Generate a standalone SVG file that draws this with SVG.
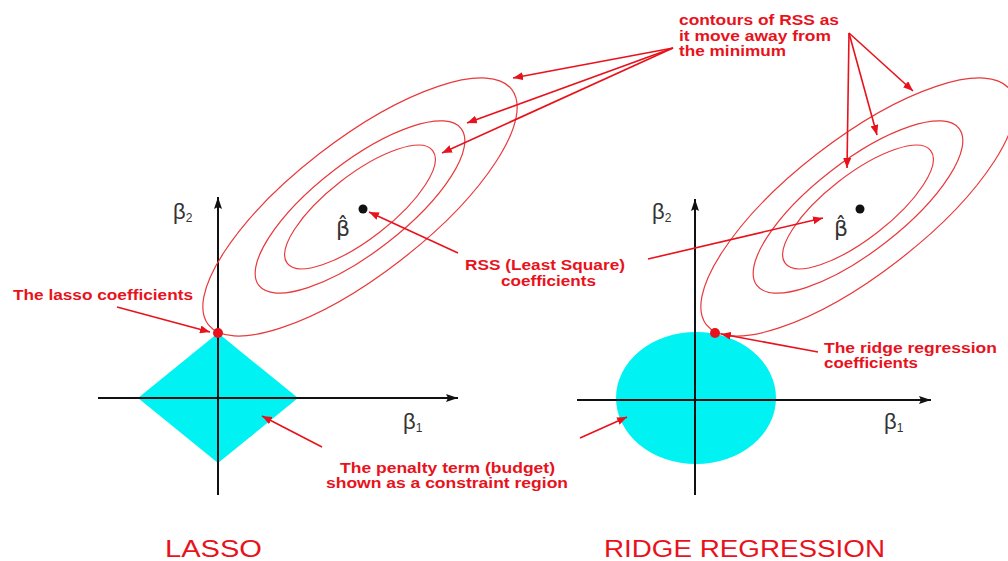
<svg xmlns="http://www.w3.org/2000/svg" width="1008" height="561" viewBox="0 0 1008 561">
<style>
.lbl{font-family:"Liberation Sans",Arial,sans-serif;font-weight:bold;font-size:14.5px;fill:#e8121c}
.title{font-family:"Liberation Sans",Arial,sans-serif;font-size:23px;fill:#e8121c}
.beta{font-family:"Liberation Sans",Arial,sans-serif;font-size:22px;fill:#333}
.sub{font-family:"Liberation Sans",Arial,sans-serif;font-size:12px;fill:#333}
.hat{font-family:"DejaVu Sans",sans-serif;font-size:22px;fill:#333}
.axis{stroke:#111;stroke-width:2;fill:none}
.contour{stroke:#e8393c;stroke-width:1.2;fill:none}
.conn{stroke:#e8121c;stroke-width:1.6;fill:none}
.region{fill:#00f2f2}
</style>
<defs>
<marker id="ah" viewBox="0 0 10 8" refX="10" refY="4" markerWidth="10" markerHeight="8" markerUnits="userSpaceOnUse" orient="auto">
<path d="M0,0 L10,4 L0,8 Z" fill="#e8121c"/>
</marker>
<marker id="axh" viewBox="0 0 12 8" refX="12" refY="4" markerWidth="12" markerHeight="8" markerUnits="userSpaceOnUse" orient="auto">
<path d="M0,0 L12,4 L0,8 L2,4 Z" fill="#111"/>
</marker>
</defs>
<rect width="1008" height="561" fill="#fff"/>

<g id="lasso-plot">
<polygon class="region" points="218,333 298,398 218,463 138,398"/>
<line class="axis" x1="98" y1="398" x2="458" y2="398" marker-end="url(#axh)"/>
<line class="axis" x1="218" y1="495" x2="218" y2="197" marker-end="url(#axh)"/>
<text class="beta" x="173" y="219">β<tspan class="sub" dy="3">2</tspan></text>
<text class="beta" x="403" y="429">β<tspan class="sub" dy="3">1</tspan></text>
</g>
<g id="lasso-contours" transform="translate(360,207) rotate(-37.8)">
<ellipse class="contour" cx="0" cy="0" rx="192" ry="67"/>
<ellipse class="contour" cx="0" cy="0" rx="128" ry="45"/>
<ellipse class="contour" cx="0" cy="0" rx="92" ry="32"/>
</g>
<g id="lasso-betahat">
<circle cx="363" cy="209" r="4.5" fill="#111"/>
<text class="hat" x="336" y="236">β̂</text>
</g>
<g id="lasso-point"><circle cx="218" cy="333" r="5" fill="#e8121c"/></g>

<g id="ridge-plot">
<ellipse class="region" cx="696" cy="398" rx="80" ry="66"/>
<line class="axis" x1="577" y1="400" x2="931" y2="400" marker-end="url(#axh)"/>
<line class="axis" x1="695" y1="495" x2="695" y2="199" marker-end="url(#axh)"/>
<text class="beta" x="652" y="219">β<tspan class="sub" dy="3">2</tspan></text>
<text class="beta" x="884" y="429">β<tspan class="sub" dy="3">1</tspan></text>
</g>
<g id="ridge-contours" transform="translate(858,207) rotate(-37.8)">
<ellipse class="contour" cx="0" cy="0" rx="192" ry="67"/>
<ellipse class="contour" cx="0" cy="0" rx="128" ry="45"/>
<ellipse class="contour" cx="0" cy="0" rx="92" ry="32"/>
</g>
<g id="ridge-betahat">
<circle cx="860" cy="209" r="4.5" fill="#111"/>
<text class="hat" x="834" y="236">β̂</text>
</g>
<g id="ridge-point"><circle cx="715" cy="333" r="5" fill="#e8121c"/></g>

<g id="connectors">
<line class="conn" x1="673" y1="48" x2="513" y2="78" marker-end="url(#ah)"/>
<line class="conn" x1="673" y1="48" x2="467" y2="123" marker-end="url(#ah)"/>
<line class="conn" x1="673" y1="48" x2="442" y2="153" marker-end="url(#ah)"/>
<line class="conn" x1="849" y1="33" x2="847" y2="168" marker-end="url(#ah)"/>
<line class="conn" x1="849" y1="33" x2="877" y2="135" marker-end="url(#ah)"/>
<line class="conn" x1="849" y1="33" x2="913" y2="91" marker-end="url(#ah)"/>
<line class="conn" x1="458" y1="253" x2="369" y2="212" marker-end="url(#ah)"/>
<line class="conn" x1="648" y1="259" x2="823" y2="218" marker-end="url(#ah)"/>
<line class="conn" x1="117" y1="307" x2="210" y2="332" marker-end="url(#ah)"/>
<line class="conn" x1="818" y1="352" x2="721" y2="334" marker-end="url(#ah)"/>
<line class="conn" x1="322" y1="447" x2="262" y2="416" marker-end="url(#ah)"/>
<line class="conn" x1="580" y1="438" x2="627" y2="417" marker-end="url(#ah)"/>
</g>

<g id="label-contours">
<text class="lbl" x="679" y="25" textLength="160" lengthAdjust="spacingAndGlyphs">contours of RSS as</text>
<text class="lbl" x="679" y="41" textLength="152" lengthAdjust="spacingAndGlyphs">it move away from</text>
<text class="lbl" x="679" y="56" textLength="107" lengthAdjust="spacingAndGlyphs">the minimum</text>
</g>
<g id="label-lasso-coef">
<text class="lbl" x="13" y="300" textLength="180" lengthAdjust="spacingAndGlyphs">The lasso coefficients</text>
</g>
<g id="label-rss">
<text class="lbl" x="465" y="270" textLength="160" lengthAdjust="spacingAndGlyphs">RSS (Least Square)</text>
<text class="lbl" x="501" y="286" textLength="95" lengthAdjust="spacingAndGlyphs">coefficients</text>
</g>
<g id="label-penalty">
<text class="lbl" x="340" y="473" textLength="215" lengthAdjust="spacingAndGlyphs">The penalty term (budget)</text>
<text class="lbl" x="326" y="488" textLength="242" lengthAdjust="spacingAndGlyphs">shown as a constraint region</text>
</g>
<g id="label-ridge-coef">
<text class="lbl" x="824" y="353" textLength="173" lengthAdjust="spacingAndGlyphs">The ridge regression</text>
<text class="lbl" x="824" y="368" textLength="94" lengthAdjust="spacingAndGlyphs">coefficients</text>
</g>
<g id="titles">
<text class="title" x="165" y="557" textLength="97" lengthAdjust="spacingAndGlyphs">LASSO</text>
<text class="title" x="604" y="557" textLength="281" lengthAdjust="spacingAndGlyphs">RIDGE REGRESSION</text>
</g>
</svg>
